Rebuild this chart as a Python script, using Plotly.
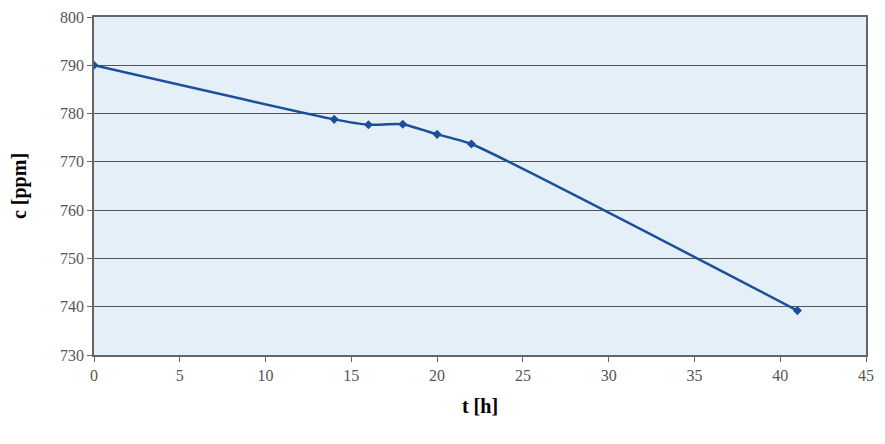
import plotly.graph_objects as go

t_hours = [0, 14, 16, 18, 20, 22, 41]
c_ppm = [790.0, 778.8, 777.7, 777.8, 775.7, 773.7, 739.2]

x_ticks = [0, 5, 10, 15, 20, 25, 30, 35, 40, 45]
y_ticks = [730, 740, 750, 760, 770, 780, 790, 800]

fig = go.Figure()
fig.add_trace(go.Scatter(
    x=t_hours, y=c_ppm, mode="lines+markers",
    line=dict(color="#1c4f9a", width=2.5, shape="spline", smoothing=0.5),
    marker=dict(symbol="diamond", size=7, color="#1c4f9a"),
    showlegend=False,
))

# page body has an 8px default margin; compensate so nothing overflows
fig.update_layout(
    width=869, height=428,
    margin=dict(l=86, r=11, t=9, b=81),
    paper_bgcolor="white",
    plot_bgcolor="#e5eff7",
    font=dict(family="Liberation Serif", size=16, color="#555555"),
)
fig.update_xaxes(
    range=[0, 45], tickvals=x_ticks, showgrid=False, zeroline=False,
    showline=True, linecolor="#666666", linewidth=1.5, mirror=True,
    ticks="outside", ticklen=5, tickcolor="#666666", automargin=False,
    ticklabeloverflow="allow",
    title=dict(text="<b>t [h]</b>", font=dict(size=20, color="black"), standoff=16),
)
fig.update_yaxes(
    range=[730, 800], tickvals=y_ticks, showgrid=True, gridcolor="#555555", gridwidth=1.2,
    zeroline=False, showline=True, linecolor="#666666", linewidth=1.5, mirror=True,
    ticks="outside", ticklen=5, tickcolor="#666666", automargin=False,
    title=dict(text="<b>c [ppm]</b>", font=dict(size=20, color="black"), standoff=30),
)
fig.write_html("out.html")
